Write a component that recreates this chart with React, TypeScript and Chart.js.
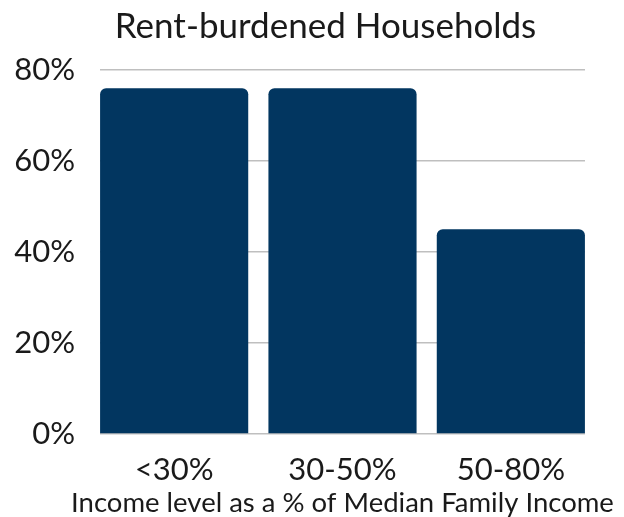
import React, { useEffect, useRef } from "react";
import { Chart, registerables } from "chart.js";

Chart.register(...registerables);

const categories = ["<30%", "30-50%", "50-80%"];
const values = [76, 76, 45];
const yTicks = [0, 20, 40, 60, 80];
const titleText = "Rent-burdened Households";
const xAxisTitle = "Income level as a % of Median Family Income";

const titlesPlugin = {
  id: "titles",
  afterDraw(chart: any) {
    const { ctx, chartArea } = chart;
    ctx.save();
    ctx.fillStyle = "#1a1a1a";
    ctx.textAlign = "center";
    ctx.textBaseline = "middle";
    ctx.font = "35px Lato";
    ctx.fillText(titleText, chartArea.left + (chartArea.right - chartArea.left) * 0.465, 27);
    ctx.font = "27.5px Lato";
    ctx.fillText(xAxisTitle, (chartArea.left + chartArea.right) / 2, chart.height - 14);
    ctx.restore();
  },
};

export default function App() {
  const ref = useRef<HTMLCanvasElement>(null);
  useEffect(() => {
    if (!ref.current) return;
    const chart = new Chart(ref.current, {
      type: "bar",
      data: {
        datasets: [
          {
            data: values.map((v, i) => ({ x: i, y: v })),
            backgroundColor: "#023660",
            borderRadius: { topLeft: 6, topRight: 6, bottomLeft: 0, bottomRight: 0 },
            borderSkipped: "bottom",
            categoryPercentage: 1,
            barPercentage: 0.88,
          },
        ],
      },
      plugins: [titlesPlugin],
      options: {
        animation: false,
        responsive: false,
        maintainAspectRatio: false,
        layout: { padding: { left: 0, right: 39, top: 70, bottom: 0 } },
        plugins: {
          legend: { display: false },
          tooltip: { enabled: false },
          title: { display: false },
        },
        scales: {
          x: {
            type: "linear",
            offset: false,
            min: -0.4405,
            max: categories.length - 1 + 0.4405,
            grid: { display: false, drawTicks: false },
            border: { display: false },
            afterBuildTicks: (scale: any) => {
              scale.ticks = categories.map((_, i) => ({ value: i }));
            },
            afterFit: (scale: any) => {
              scale.height = 83;
            },
            ticks: {
              padding: 17,
              maxRotation: 0,
              color: "#1a1a1a",
              font: { family: "Lato", size: 31, lineHeight: 1.2 },
              callback: (v: any) => categories[v as number] ?? "",
            },
          },
          y: {
            min: 0,
            max: 80,
            afterBuildTicks: (scale: any) => {
              scale.ticks = yTicks.map((v) => ({ value: v }));
            },
            afterFit: (scale: any) => {
              scale.width = 100;
            },
            grid: { color: "#bfbfbf", lineWidth: 1.5, drawTicks: false },
            border: { display: false },
            ticks: {
              padding: 25,
              color: "#1a1a1a",
              font: { family: "Lato", size: 31 },
              callback: (v: any) => v + "%",
            },
          },
        },
      },
    });
    return () => chart.destroy();
  }, []);
  return (
    <div style={{ position: "fixed", left: 0, top: 0, width: 624, height: 517, background: "#fff" }}>
      <canvas ref={ref} width={624} height={517} style={{ width: 624, height: 517 }} />
    </div>
  );
}
